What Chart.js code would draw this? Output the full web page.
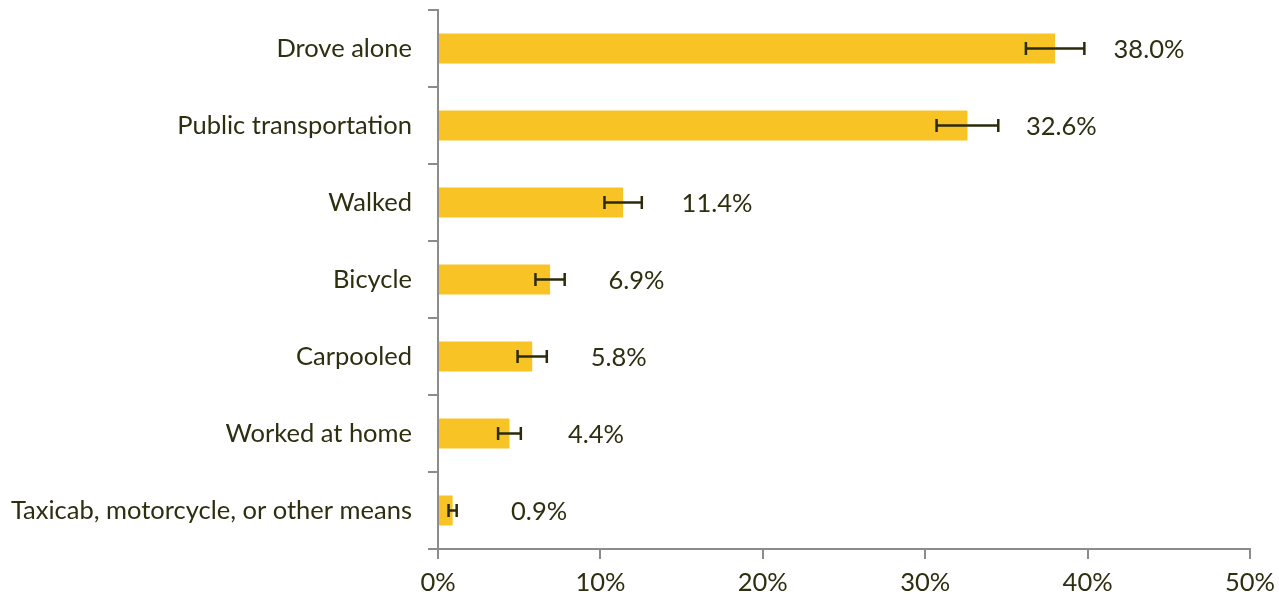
<!DOCTYPE html>
<html><head><meta charset="utf-8">
<script src="https://cdn.jsdelivr.net/npm/chart.js@4"></script>
<style>html,body{margin:0;padding:0;background:#fff}#wrap{width:1279px;height:600px}</style>
</head><body><div id="wrap"><canvas id="c" width="1279" height="600"></canvas></div>
<script>
const categories = ["Drove alone","Public transportation","Walked","Bicycle","Carpooled","Worked at home","Taxicab, motorcycle, or other means"];
const shares = [38.0, 32.6, 11.4, 6.9, 5.8, 4.4, 0.9];
const margins = [1.8, 1.9, 1.15, 0.9, 0.9, 0.7, 0.25];
const xTicks = [0, 10, 20, 30, 40, 50];

const TEXT = '#2e2e10';
const AXIS = '#8c8c8c';
const FONT = 'Lato';
const FSIZE = 25.5;

const errorBars = {
  id: 'errorBars',
  afterDatasetsDraw(chart) {
    const ctx = chart.ctx, x = chart.scales.x, y = chart.scales.y;
    ctx.save();
    ctx.strokeStyle = '#2b2b0c';
    ctx.lineWidth = 2.5;
    shares.forEach((v, i) => {
      const yc = y.getPixelForValue(i);
      const x1 = x.getPixelForValue(v - margins[i]);
      const x2 = x.getPixelForValue(v + margins[i]);
      ctx.beginPath();
      ctx.moveTo(x1, yc); ctx.lineTo(x2, yc);
      ctx.moveTo(x1, yc - 6.5); ctx.lineTo(x1, yc + 6.5);
      ctx.moveTo(x2, yc - 6.5); ctx.lineTo(x2, yc + 6.5);
      ctx.stroke();
    });
    ctx.fillStyle = TEXT;
    ctx.font = FSIZE + 'px ' + FONT;
    ctx.textBaseline = 'middle';
    ctx.textAlign = 'left';
    shares.forEach((v, i) => {
      const yc = y.getPixelForValue(i);
      ctx.fillText(v.toFixed(1) + '%', x.getPixelForValue(v + 3.6), yc + 1);
    });
    ctx.restore();
  }
};

new Chart(document.getElementById('c'), {
  type: 'bar',
  data: {
    labels: categories,
    datasets: [{
      data: shares,
      backgroundColor: '#F7C325',
      borderWidth: 0,
      barPercentage: 0.39,
      categoryPercentage: 1.0
    }]
  },
  options: {
    indexAxis: 'y',
    responsive: false,
    animation: false,
    layout: { padding: { top: 10, right: 29, left: 0, bottom: 0 } },
    plugins: { legend: { display: false }, tooltip: { enabled: false } },
    scales: {
      x: {
        min: 0, max: 50,
        afterBuildTicks(s) { s.ticks = xTicks.map(v => ({ value: v })); },
        afterFit(s) { s.height = 51; s.paddingRight = 0; s.paddingLeft = 0; },
        grid: { drawOnChartArea: false, drawTicks: true, tickLength: 10, color: AXIS, lineWidth: 2 },
        border: { color: AXIS, width: 2 },
        ticks: { color: TEXT, font: { family: FONT, size: FSIZE }, padding: 8, callback: v => v + '%' }
      },
      y: {
        afterFit(s) { s.width = 438; s.paddingTop = 0; s.paddingBottom = 0; },
        grid: { offset: true, drawOnChartArea: false, drawTicks: true, tickLength: 10, color: AXIS, lineWidth: 2 },
        border: { color: AXIS, width: 2 },
        ticks: { color: TEXT, font: { family: FONT, size: FSIZE }, padding: 16 }
      }
    }
  },
  plugins: [errorBars]
});
</script>
</body></html>
